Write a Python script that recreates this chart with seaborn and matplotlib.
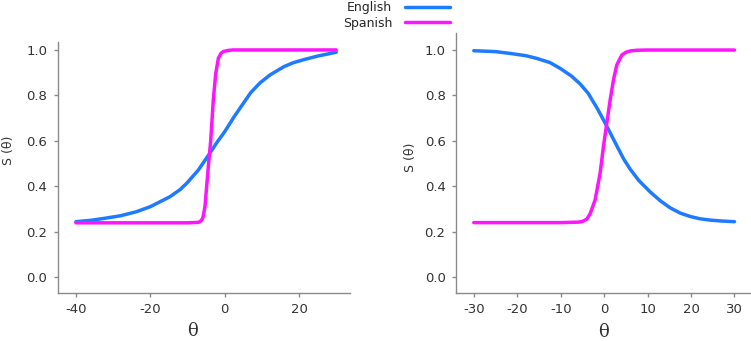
import matplotlib
matplotlib.use("Agg")
import matplotlib.pyplot as plt
import seaborn as sns
import pandas as pd

# ---- data ----
left_en_theta = [-40, -36, -32.6, -28, -23.7, -20, -16.5, -14.7, -12, -10.2, -7.1, -4, -2, 0,
                 2.5, 4.6, 7, 9.5, 12.2, 16, 18.5, 21.2, 25, 30]
left_en_S = [0.244, 0.250, 0.258, 0.270, 0.288, 0.310, 0.339, 0.354, 0.385, 0.413, 0.471, 0.545,
             0.595, 0.64, 0.705, 0.755, 0.812, 0.855, 0.89, 0.927, 0.944, 0.957, 0.973, 0.99]

left_es_theta = [-40, -20, -10, -7, -6.2, -5.8, -5.3, -4.4, -3.76, -3.06, -2.4, -1.7, -1.0,
                 -0.37, 1.0, 2.3, 10, 20, 30]
left_es_S = [0.239, 0.239, 0.239, 0.241, 0.25, 0.265, 0.31, 0.486, 0.60, 0.78, 0.897, 0.963,
             0.985, 0.993, 0.998, 1.0, 1.0, 1.0, 1.0]

right_en_theta = [-30, -25, -21.6, -18, -15.5, -12.5, -10.1, -7.5, -5.5, -3.7, -1.5, 0.6, 3, 4.5,
                  6, 8, 10.6, 13, 15.2, 17.5, 19.8, 22, 24.4, 27, 30]
right_en_S = [0.997, 0.993, 0.985, 0.975, 0.963, 0.945, 0.919, 0.885, 0.85, 0.81, 0.74, 0.665,
              0.575, 0.52, 0.475, 0.425, 0.375, 0.335, 0.305, 0.282, 0.267, 0.257, 0.251, 0.247,
              0.244]

right_es_theta = [-30, -20, -10, -6, -5, -4, -3.2, -2.08, -0.93, -0.17, 0.6, 1.38, 2.14, 2.9,
                  4.07, 5, 6, 7.5, 9.8, 20, 30]
right_es_S = [0.24, 0.24, 0.24, 0.242, 0.245, 0.255, 0.28, 0.34, 0.457, 0.574, 0.677, 0.78,
              0.868, 0.934, 0.978, 0.99, 0.996, 0.999, 1.0, 1.0, 1.0]

languages = ["English", "Spanish"]
left_xticks = [-40, -20, 0, 20]
right_xticks = [-30, -20, -10, 0, 10, 20, 30]
yticks = [0.0, 0.2, 0.4, 0.6, 0.8, 1.0]

palette = {"English": "#1E7BFF", "Spanish": "#FF14FF"}


def frame(en_t, en_s, es_t, es_s):
    a = pd.DataFrame({"theta": en_t, "S": en_s, "lang": languages[0]})
    b = pd.DataFrame({"theta": es_t, "S": es_s, "lang": languages[1]})
    return pd.concat([a, b], ignore_index=True)


df_left = frame(left_en_theta, left_en_S, left_es_theta, left_es_S)
df_right = frame(right_en_theta, right_en_S, right_es_theta, right_es_S)

sns.set_style("ticks")
plt.rcParams["font.family"] = ["DejaVu Sans"]

W, H = 751, 341
fig = plt.figure(figsize=(W / 100, H / 100), dpi=100)

axL = fig.add_axes([57.7 / W, 1 - 293 / H, (350 - 57.7) / W, (293 - 42) / H])
axR = fig.add_axes([456 / W, 1 - 293 / H, (751 - 456) / W, (293 - 33) / H])

for ax, df, xt, xlim, ytop, xlab_x in [
    (axL, df_left, left_xticks, (-44.9, 33.7), 1.035, 0.462),
    (axR, df_right, right_xticks, (-34.1, 33.8), 1.075, 0.499),
]:
    sns.lineplot(data=df, x="theta", y="S", hue="lang", hue_order=languages,
                 palette=palette, linewidth=2.5, ax=ax, sort=False, estimator=None)
    ax.get_legend().remove()
    ax.set_xlim(*xlim)
    ax.set_ylim(-0.07, ytop)
    ax.set_xticks(xt)
    ax.set_xticklabels([str(v) for v in xt])
    ax.set_yticks(yticks)
    ax.set_yticklabels([f"{v:.1f}" for v in yticks])
    for s in ["top", "right"]:
        ax.spines[s].set_visible(False)
    for s in ["left", "bottom"]:
        ax.spines[s].set_color("#8a8a8a")
        ax.spines[s].set_linewidth(1.0)
    ax.tick_params(axis="both", colors="#8a8a8a", labelcolor="#333333",
                   length=3, width=1, labelsize=9.5, pad=4.5)
    ax.set_xlabel("θ", family=["DejaVu Serif"], fontsize=13, color="#333333")
    ax.set_ylabel("S (θ)", fontsize=9, color="#333333")
    ax.xaxis.set_label_coords(xlab_x, -0.115)
    ax.set_facecolor("white")

axL.yaxis.set_label_coords((15 - 57.7) / (350 - 57.7), 0.57)
axR.yaxis.set_label_coords((417 - 456) / (751 - 456), 0.52)

handles, labels = axL.get_legend_handles_labels()
fig.legend(handles, labels, loc="upper left", bbox_to_anchor=(343 / W, 0.997),
           frameon=False, markerfirst=False, borderpad=0, borderaxespad=0,
           handlelength=3.6, handletextpad=1.0, labelspacing=0.2, fontsize=9)

fig.savefig("out.png", dpi=100, facecolor="white")
